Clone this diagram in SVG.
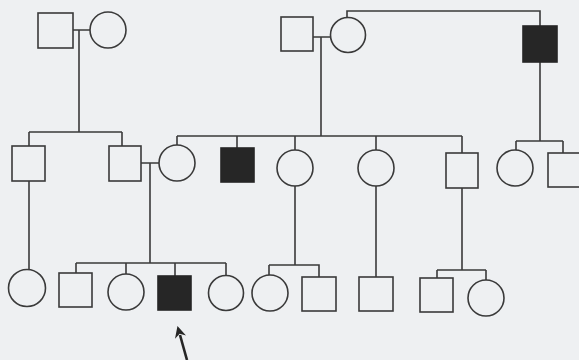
<svg xmlns="http://www.w3.org/2000/svg" width="579" height="360" viewBox="0 0 579 360">
<style>
.n{fill:none;stroke:#3a3a3a;stroke-width:1.6}
.a{fill:#262626;stroke:#262626;stroke-width:1.6}
.c{fill:none;stroke:#3a3a3a;stroke-width:1.6}
</style>
<defs>
<marker id="ah" viewBox="0 0 10 10" refX="2" refY="5" markerWidth="4.5" markerHeight="4.5" orient="auto-start-reverse">
<path d="M0,0 L10,5 L0,10 L3,5 z" fill="#262626"/>
</marker>
</defs>
<rect width="579" height="360" fill="#eef0f2"/>
<g id="connectors">
<path class="c" d="M73,30 H90 M79,30 V132 M29,132 H122 M29,132 V146 M122,132 V146"/>
<path class="c" d="M313,37 H330 M321,37 V136 M177,136 H462 M177,136 V145 M237,136 V148 M295,136 V150 M376,136 V150 M462,136 V153"/>
<path class="c" d="M347,17 V11 H540 V26 M540,62 V141 M516,141 H563 M516,141 V150 M563,141 V153"/>
<path class="c" d="M141,163 H159 M150,163 V263 M76,263 H226 M76,263 V273 M126,263 V274 M175,263 V276 M226,263 V276"/>
<path class="c" d="M29,181 V270"/>
<path class="c" d="M295,186 V265 H319 V277 M269,265 V275 M269,265 H295"/>
<path class="c" d="M376,186 V277"/>
<path class="c" d="M462,188 V270 M437,270 H486 M437,270 V278 M486,270 V280"/>
<path d="M187,360 L180,335" stroke="#262626" stroke-width="2.6" fill="none" marker-end="url(#ah)"/>
</g>
<g id="I1"><rect class="n" x="38" y="13" width="35" height="35"/></g>
<g id="I2"><circle class="n" cx="108" cy="30" r="18"/></g>
<g id="I3"><rect class="n" x="281" y="17" width="32" height="34"/></g>
<g id="I4"><circle class="n" cx="348" cy="35" r="17.5"/></g>
<g id="I5"><rect class="a" x="523" y="26" width="34" height="36"/></g>
<g id="II1"><rect class="n" x="12" y="146" width="33" height="35"/></g>
<g id="II2"><rect class="n" x="109" y="146" width="32" height="35"/></g>
<g id="II3"><circle class="n" cx="177" cy="163" r="18"/></g>
<g id="II4"><rect class="a" x="221" y="148" width="33" height="34"/></g>
<g id="II5"><circle class="n" cx="295" cy="168" r="18"/></g>
<g id="II6"><circle class="n" cx="376" cy="168" r="18"/></g>
<g id="II7"><rect class="n" x="446" y="153" width="32" height="35"/></g>
<g id="II8"><circle class="n" cx="515" cy="168" r="18"/></g>
<g id="II9"><rect class="n" x="548" y="153" width="35" height="34"/></g>
<g id="III1"><circle class="n" cx="27" cy="288" r="18.5"/></g>
<g id="III2"><rect class="n" x="59" y="273" width="33" height="34"/></g>
<g id="III3"><circle class="n" cx="126" cy="292" r="18"/></g>
<g id="III4"><rect class="a" x="158" y="276" width="33" height="34"/></g>
<g id="III5"><circle class="n" cx="226" cy="293" r="17.5"/></g>
<g id="III6"><circle class="n" cx="270" cy="293" r="18"/></g>
<g id="III7"><rect class="n" x="302" y="277" width="34" height="34"/></g>
<g id="III8"><rect class="n" x="359" y="277" width="34" height="34"/></g>
<g id="III9"><rect class="n" x="420" y="278" width="33" height="34"/></g>
<g id="III10"><circle class="n" cx="486" cy="298" r="18"/></g>
</svg>
